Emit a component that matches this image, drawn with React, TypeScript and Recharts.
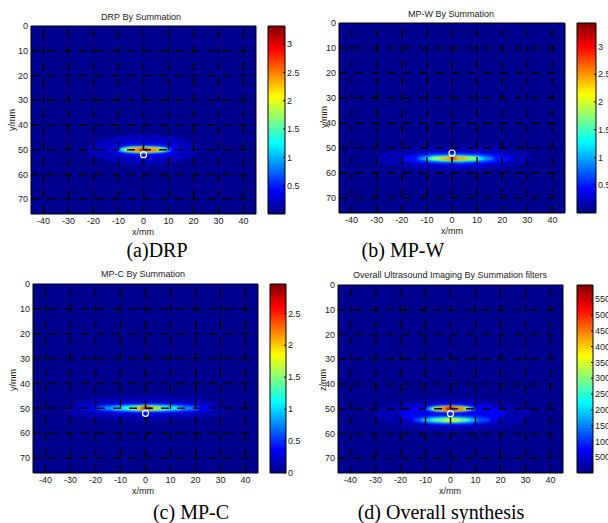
import {
  ScatterChart,
  Scatter,
  XAxis,
  YAxis,
  ReferenceArea,
  ReferenceLine,
  BarChart,
  Bar,
} from 'recharts'

const xTicks = [-40, -30, -20, -10, 0, 10, 20, 30, 40]
const yTicks = [0, 10, 20, 30, 40, 50, 60, 70]
const gridY = [10, 20, 30, 40, 50, 60, 70]
const source = [{ x: 0, y: 52 }]

// hot bands: extent in mm, value in colour-bar units (outer first)
const drpBands = [
  { x1: -22, x2: 22, y1: 44, y2: 56, v: 0.2 },
  { x1: -14, x2: 15, y1: 47, y2: 53, v: 0.42 },
  { x1: -10.5, x2: 11, y1: 48.5, y2: 51.5, v: 1.05 },
  { x1: -9, x2: 9.5, y1: 48.9, y2: 51.1, v: 1.6 },
  { x1: -7.5, x2: 8, y1: 49.2, y2: 50.8, v: 2.2 },
  { x1: -6, x2: 6.5, y1: 49.4, y2: 50.6, v: 2.6 },
  { x1: -1.8, x2: 1.8, y1: 49.5, y2: 50.5, v: 3.2 },
]
const mpwBands = [
  { x1: -30, x2: 32, y1: 49, y2: 59, v: 0.18 },
  { x1: -20, x2: 24, y1: 51.5, y2: 57, v: 0.45 },
  { x1: -14, x2: 17, y1: 52.6, y2: 55.8, v: 0.9 },
  { x1: -11, x2: 13, y1: 53.1, y2: 55.3, v: 1.3 },
  { x1: -9, x2: 11, y1: 53.4, y2: 55, v: 1.9 },
  { x1: -5, x2: 7, y1: 53.7, y2: 54.7, v: 2.5 },
  { x1: -1, x2: 2, y1: 53.8, y2: 54.6, v: 3.0 },
]
const mpcBands = [
  { x1: -32, x2: 32, y1: 45, y2: 55, v: 0.14 },
  { x1: -26, x2: 28, y1: 47.5, y2: 52.5, v: 0.35 },
  { x1: -20, x2: 22, y1: 48.5, y2: 51.3, v: 0.8 },
  { x1: -14, x2: 15, y1: 48.9, y2: 50.9, v: 1.1 },
  { x1: -8, x2: 9, y1: 49.2, y2: 50.7, v: 1.6 },
  { x1: -5, x2: 6, y1: 49.4, y2: 50.5, v: 2.1 },
  { x1: -2, x2: 2.5, y1: 49.5, y2: 50.4, v: 2.7 },
]
const overallBands = [
  { x1: -30, x2: 32, y1: 46, y2: 59, v: 280 },
  { x1: -20, x2: 22, y1: 47.5, y2: 57, v: 700 },
  { x1: -15, x2: 16, y1: 52.8, y2: 56.2, v: 1200 },
  { x1: -12, x2: 11, y1: 53.5, y2: 55.7, v: 2000 },
  { x1: -8, x2: 8, y1: 53.9, y2: 55.3, v: 3000 },
  { x1: -3, x2: 4, y1: 54.1, y2: 55.1, v: 3600 },
  { x1: -10, x2: 10, y1: 48.7, y2: 51.3, v: 1800 },
  { x1: -8, x2: 8.5, y1: 49, y2: 51, v: 3500 },
  { x1: -6, x2: 6, y1: 49.3, y2: 50.7, v: 4700 },
  { x1: -2, x2: 2, y1: 49.4, y2: 50.6, v: 5400 },
]

const drpTicks = [0.5, 1, 1.5, 2, 2.5, 3]
const mpwTicks = [0.5, 1, 1.5, 2, 2.5, 3]
const mpcTicks = [0, 0.5, 1, 1.5, 2, 2.5]
const overallTicks = [500, 1000, 1500, 2000, 2500, 3000, 3500, 4000, 4500, 5000, 5500]

const panels = [
  {
    id: 'a', title: 'DRP By Summation', ylabel: 'y/mm', caption: '(a)DRP',
    bands: drpBands, max: 3.32, bg: 0.05, ticks: drpTicks,
    plot: { l: 31, t: 26, r: 256, b: 214 }, bar: { l: 268, r: 285 },
    titleAt: [141, 17], xlabAt: [143, 232], ylabAt: [12, 120], capAt: [157, 250],
  },
  {
    id: 'b', title: 'MP-W By Summation', ylabel: 'y/mm', caption: '(b) MP-W',
    bands: mpwBands, max: 3.42, bg: 0.05, ticks: mpwTicks,
    plot: { l: 339, t: 23, r: 565, b: 213 }, bar: { l: 577, r: 596 },
    titleAt: [451, 14], xlabAt: [452, 231], ylabAt: [324, 117], capAt: [403, 250],
  },
  {
    id: 'c', title: 'MP-C By Summation', ylabel: 'y/mm', caption: '(c) MP-C',
    bands: mpcBands, max: 2.96, bg: 0.045, ticks: mpcTicks,
    plot: { l: 33, t: 284, r: 258, b: 473 }, bar: { l: 270, r: 286 },
    titleAt: [143, 274], xlabAt: [143, 491], ylabAt: [13, 380], capAt: [191, 512],
  },
  {
    id: 'd', title: 'Overall Ultrasound Imaging By Summation filters', ylabel: 'z/mm',
    caption: '(d) Overall synthesis',
    bands: overallBands, max: 5950, bg: 90, ticks: overallTicks,
    plot: { l: 338, t: 285, r: 563, b: 473 }, bar: { l: 577, r: 593 },
    titleAt: [450, 275], xlabAt: [450, 491], ylabAt: [323, 380], capAt: [441, 512],
  },
]

const W = 608
const H = 523
const sans = '"Liberation Sans", Arial, sans-serif'
const tickStyle = { fontSize: 9, fill: '#222', fontFamily: sans }

const clamp = (v: number) => Math.max(0, Math.min(1, v))
function jet(t: number) {
  const r = clamp(1.5 - Math.abs(4 * t - 3))
  const g = clamp(1.5 - Math.abs(4 * t - 2))
  const b = clamp(1.5 - Math.abs(4 * t - 1))
  return `rgb(${Math.round(r * 255)},${Math.round(g * 255)},${Math.round(b * 255)})`
}

function Heatmap({ p }: { p: any }) {
  const { l, t, r, b } = p.plot
  return (
    <div style={{ position: 'absolute', left: 0, top: 0 }}>
      <ScatterChart
        width={W}
        height={H}
        margin={{ top: t, left: l - 30, right: W - r, bottom: H - b - 20 }}
      >
        <defs>
          <filter id={`blur-${p.id}`} x="-50%" y="-50%" width="200%" height="200%">
            <feGaussianBlur stdDeviation={1.3} />
          </filter>
        </defs>
        <XAxis
          type="number"
          dataKey="x"
          domain={[-45, 45]}
          ticks={xTicks}
          interval={0}
          height={20}
          tickSize={0}
          tickMargin={4}
          axisLine={false}
          tickLine={false}
          tick={tickStyle}
        />
        <YAxis
          type="number"
          dataKey="y"
          domain={[0, 76]}
          reversed
          ticks={yTicks}
          interval={0}
          width={30}
          tickSize={0}
          tickMargin={3}
          axisLine={false}
          tickLine={false}
          tick={tickStyle}
        />
        <ReferenceArea
          x1={-45}
          x2={45}
          y1={0}
          y2={76}
          fill={jet(p.bg / p.max)}
          fillOpacity={1}
          stroke="none"
        />
        {p.bands.map((band: any, i: number) => (
          <ReferenceArea
            key={i}
            x1={band.x1}
            x2={band.x2}
            y1={band.y1}
            y2={band.y2}
            shape={(s: any) => (
              <ellipse
                cx={s.x + s.width / 2}
                cy={s.y + s.height / 2}
                rx={Math.abs(s.width) / 2}
                ry={Math.abs(s.height) / 2}
                fill={jet(band.v / p.max)}
                filter={`url(#blur-${p.id})`}
              />
            )}
          />
        ))}
        {xTicks.map((v) => (
          <ReferenceLine
            key={`x${v}`}
            x={v}
            stroke="#000"
            strokeWidth={1.5}
            strokeDasharray="8 8"
          />
        ))}
        {gridY.map((v) => (
          <ReferenceLine
            key={`y${v}`}
            y={v}
            stroke="#000"
            strokeWidth={1.5}
            strokeDasharray="8 8"
          />
        ))}
        <ReferenceArea x1={-45} x2={45} y1={0} y2={76} fill="none" stroke="#000" strokeWidth={1} />
        <Scatter
          data={source}
          isAnimationActive={false}
          shape={(s: any) => (
            <circle cx={s.cx} cy={s.cy} r={3} fill="none" stroke="#fff" strokeWidth={1.2} />
          )}
        />
      </ScatterChart>
    </div>
  )
}

function ColorBar({ p }: { p: any }) {
  const { t, b } = p.plot
  const stops = [0, 1, 2, 3, 4, 5, 6, 7, 8].map((i) => i / 8)
  return (
    <div style={{ position: 'absolute', left: 0, top: 0 }}>
      <BarChart
        width={W}
        height={H}
        data={[{ k: 'cb', v: p.max }]}
        barCategoryGap={0}
        margin={{ top: t, left: p.bar.l, right: W - p.bar.r - 40, bottom: H - b }}
      >
        <defs>
          <linearGradient id={`jet-${p.id}`} x1="0" y1="0" x2="0" y2="1">
            {stops.map((s) => (
              <stop key={s} offset={s} stopColor={jet(1 - s)} />
            ))}
          </linearGradient>
        </defs>
        <XAxis dataKey="k" hide />
        <YAxis
          orientation="right"
          type="number"
          domain={[0, p.max]}
          ticks={p.ticks}
          interval={0}
          width={40}
          axisLine={false}
          tickSize={-2}
          tickMargin={4}
          tickLine={{ stroke: '#000' }}
          tick={{ ...tickStyle, textAnchor: 'start' }}
        />
        <Bar
          dataKey="v"
          fill={`url(#jet-${p.id})`}
          stroke="#000"
          strokeWidth={1}
          isAnimationActive={false}
        />
      </BarChart>
    </div>
  )
}

function Text({ at, children, size, serif, rotate }: any) {
  return (
    <div
      style={{
        position: 'absolute',
        left: at[0] - 200,
        top: at[1] - size,
        width: 400,
        height: size * 2,
        lineHeight: `${size * 2}px`,
        textAlign: 'center',
        fontSize: size,
        fontFamily: serif ? '"Liberation Serif", "Times New Roman", serif' : sans,
        color: serif ? '#000' : '#222',
        whiteSpace: 'nowrap',
        transform: rotate ? 'rotate(-90deg)' : undefined,
      }}
    >
      {children}
    </div>
  )
}

export default function App() {
  return (
    <div
      style={{
        position: 'absolute',
        left: 0,
        top: 0,
        width: W,
        height: H,
        overflow: 'hidden',
        background: '#fff',
      }}
    >
      {panels.map((p) => (
        <div key={p.id}>
          <Heatmap p={p} />
          <ColorBar p={p} />
          <Text at={p.titleAt} size={9}>{p.title}</Text>
          <Text at={p.xlabAt} size={9}>x/mm</Text>
          <Text at={p.ylabAt} size={9} rotate>{p.ylabel}</Text>
          <Text at={p.capAt} size={20} serif>{p.caption}</Text>
        </div>
      ))}
    </div>
  )
}
